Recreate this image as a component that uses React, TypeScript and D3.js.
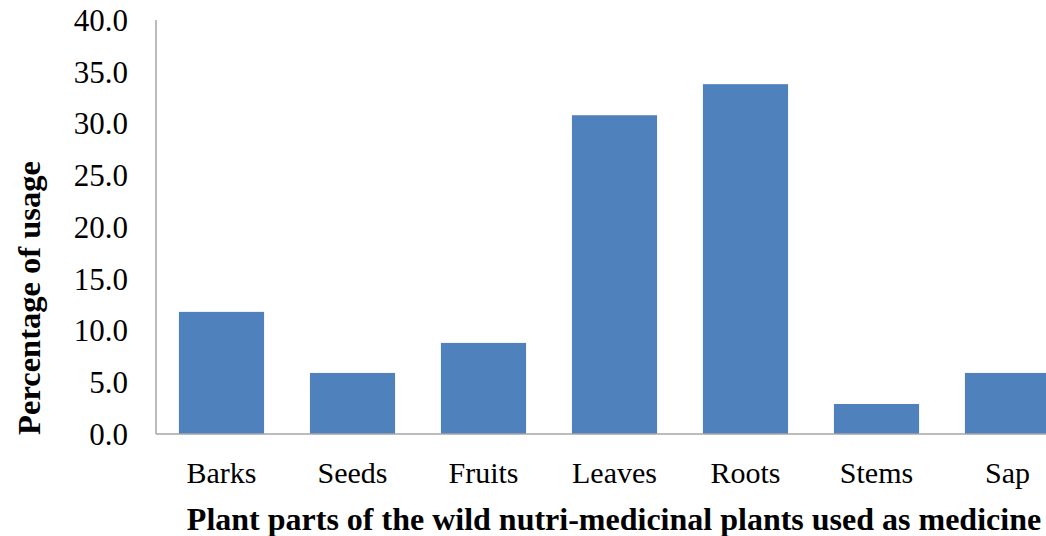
import { useEffect, useRef } from 'react';
import * as d3 from 'd3';

// Plant parts and their percentage of usage
const categories = ['Barks', 'Seeds', 'Fruits', 'Leaves', 'Roots', 'Stems', 'Sap'];
const usageValues = [11.8, 5.9, 8.8, 30.8, 33.8, 2.9, 5.9];
const yTicks = [0, 5, 10, 15, 20, 25, 30, 35, 40];

const WIDTH = 1046;
const HEIGHT = 536;

const ChartSvg = () => {
  const svgRef = useRef<SVGSVGElement>(null);

  useEffect(() => {
    document.body.style.margin = '0';
    if (!svgRef.current) return;

    const svg = d3.select(svgRef.current);
    svg.selectAll('*').remove();

    const left = 156;
    const top = 20;
    const bottom = 434;
    const step = 131;

    const xScale = d3.scaleBand<string>()
      .domain(categories)
      .range([left, left + step * categories.length])
      .paddingInner(0.35)
      .paddingOuter(0.175);

    const yScale = d3.scaleLinear()
      .domain([0, 40])
      .range([bottom, top]);

    const font = '"Liberation Serif", "Times New Roman", serif';

    // Bars
    svg.append('g')
      .selectAll('rect')
      .data(categories)
      .enter().append('rect')
      .attr('x', d => xScale(d) || 0)
      .attr('y', (d, i) => yScale(usageValues[i]))
      .attr('width', xScale.bandwidth())
      .attr('height', (d, i) => bottom - yScale(usageValues[i]))
      .attr('fill', '#4f81bd');

    // Y axis line
    svg.append('line')
      .attr('x1', left).attr('x2', left)
      .attr('y1', yScale(40)).attr('y2', bottom)
      .attr('stroke', '#a6a6a6')
      .attr('stroke-width', 1.5);

    // X axis line
    svg.append('line')
      .attr('x1', left).attr('x2', WIDTH)
      .attr('y1', bottom).attr('y2', bottom)
      .attr('stroke', '#a6a6a6')
      .attr('stroke-width', 1.5);

    // Y tick labels
    svg.append('g')
      .selectAll('text')
      .data(yTicks)
      .enter().append('text')
      .attr('x', 128)
      .attr('y', d => yScale(d))
      .attr('dy', '0.35em')
      .attr('text-anchor', 'end')
      .style('font-family', font)
      .style('font-size', '31px')
      .style('fill', '#000')
      .text(d => d3.format('.1f')(d));

    // Category labels
    svg.append('g')
      .selectAll('text')
      .data(categories)
      .enter().append('text')
      .attr('x', d => (xScale(d) || 0) + xScale.bandwidth() / 2)
      .attr('y', 483)
      .attr('text-anchor', 'middle')
      .style('font-family', font)
      .style('font-size', '30px')
      .style('fill', '#000')
      .text(d => d);

    // X axis title
    svg.append('text')
      .attr('x', 614)
      .attr('y', 530)
      .attr('text-anchor', 'middle')
      .style('font-family', font)
      .style('font-size', '32px')
      .style('font-weight', 'bold')
      .style('fill', '#000')
      .text('Plant parts of the wild nutri-medicinal plants used as medicine');

    // Y axis title
    svg.append('text')
      .attr('transform', 'translate(40,298) rotate(-90)')
      .attr('text-anchor', 'middle')
      .style('font-family', font)
      .style('font-size', '32.5px')
      .style('font-weight', 'bold')
      .style('fill', '#000')
      .text('Percentage of usage');
  }, []);

  return <svg ref={svgRef} width={WIDTH} height={HEIGHT} style={{ display: 'block', background: '#fff' }} />;
};

export default function App() {
  return <ChartSvg />;
}
